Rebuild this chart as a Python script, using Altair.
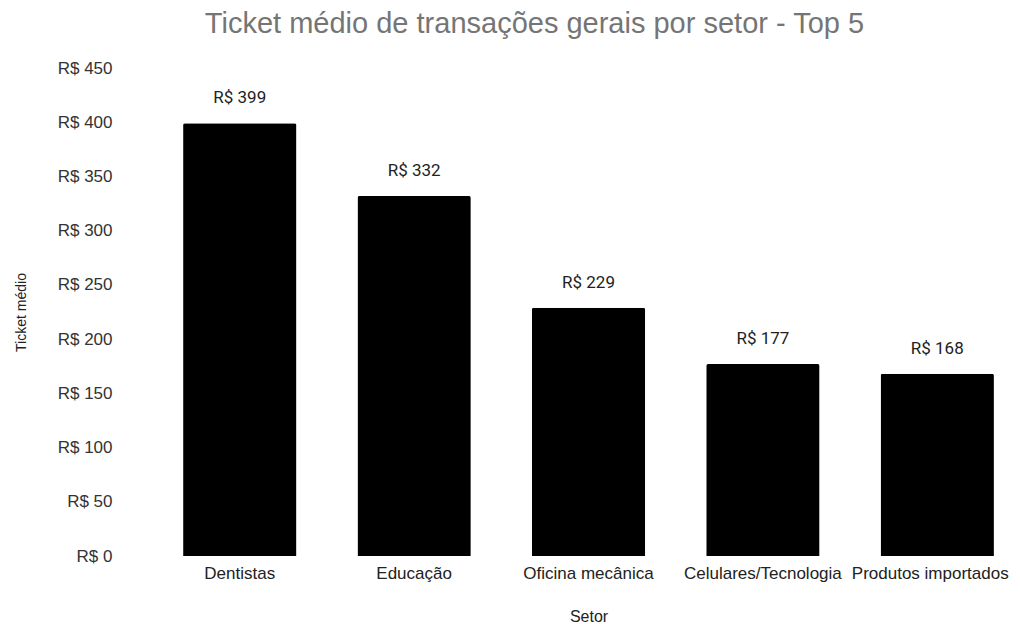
import altair as alt
import pandas as pd

setores = ["Dentistas", "Educação", "Oficina mecânica", "Celulares/Tecnologia", "Produtos importados"]
ticket = [399, 332, 229, 177, 168]
rotulos = ["R$ 399", "R$ 332", "R$ 229", "R$ 177", "R$ 168"]
y_ticks = [0, 50, 100, 150, 200, 250, 300, 350, 400, 450]

df = pd.DataFrame({"Setor": setores, "Ticket": ticket, "Rotulo": rotulos})

x = alt.X(
    "Setor:N",
    sort=setores,
    title="Setor",
    scale=alt.Scale(paddingInner=0.35, paddingOuter=0.075),
    axis=alt.Axis(
        labelAngle=0,
        labelFont="Liberation Sans",
        labelFontSize=17,
        labelColor="#222222",
        labelPadding=9,
        labelOffset={"condition": {"test": "datum.value === 'Produtos importados'", "value": -7}, "value": 0},
        ticks=False,
        domain=False,
        titleFont="Liberation Sans",
        titleFontSize=16,
        titleFontWeight="normal",
        titleColor="#222222",
        titleBaseline="alphabetic",
        titleY=65,
    ),
)

y = alt.Y(
    "Ticket:Q",
    title="Ticket médio",
    scale=alt.Scale(domain=[0, 450], nice=False),
    axis=alt.Axis(
        values=y_ticks,
        labelExpr="'R$ ' + datum.value",
        labelFont="Liberation Sans",
        labelFontSize=17,
        labelColor="#333333",
        labelPadding=58,
        ticks=False,
        domain=False,
        grid=False,
        titleFont="Liberation Sans",
        titleFontSize=14,
        titleFontWeight="normal",
        titleColor="#222222",
        titleAngle=-90,
        titleAlign="center",
        titleBaseline="middle",
        titleX=-149,
        titleY=244,
    ),
)

bars = alt.Chart(df).mark_bar(
    color="#000000", cornerRadiusTopLeft=2, cornerRadiusTopRight=2
).encode(x=x, y=y)

labels = alt.Chart(df).mark_text(
    font="Roboto", fontSize=17, color="#222222", baseline="alphabetic", dy=-20
).encode(x=alt.X("Setor:N", sort=setores), y="Ticket:Q", text="Rotulo:N")

chart = (
    alt.layer(bars, labels)
    .properties(
        width=837,
        height=488,
        background="white",
        autosize=alt.AutoSizeParams(type="none"),
        padding={"left": 162, "top": 60, "right": 5, "bottom": 68},
        title=alt.Title(
            "Ticket médio de transações gerais por setor - Top 5",
            font="Liberation Sans",
            fontSize=29,
            fontWeight="normal",
            color="#757575",
            anchor="middle",
            dx=-54,
            offset=20,
        ),
    )
    .configure_view(strokeWidth=0)
)

chart.save("out.html", embed_options={"renderer": "svg", "actions": False})
